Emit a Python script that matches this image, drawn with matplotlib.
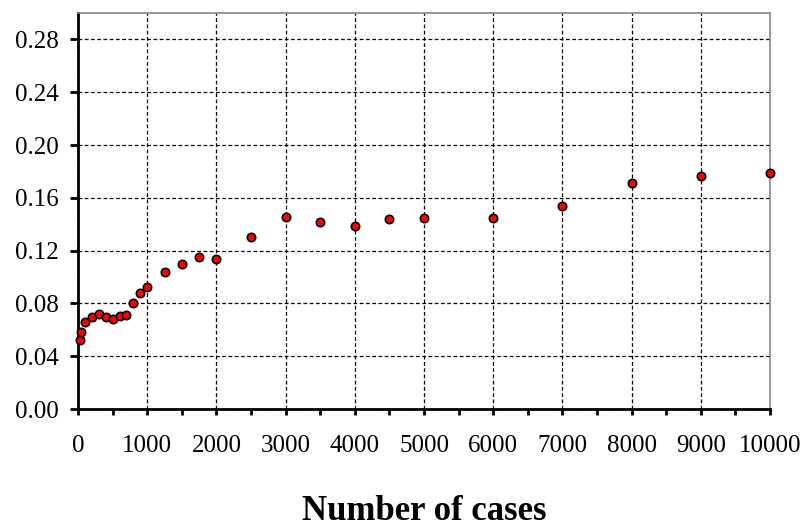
import matplotlib
matplotlib.use("Agg")
import matplotlib.pyplot as plt
from matplotlib.ticker import MultipleLocator, FormatStrFormatter

cases = [25, 50, 100, 200, 300, 400, 500, 600, 700, 800, 900, 1000,
         1250, 1500, 1750, 2000, 2500, 3000, 3500, 4000, 4500, 5000,
         6000, 7000, 8000, 9000, 10000]
values = [0.052, 0.058, 0.066, 0.070, 0.072, 0.0697, 0.068, 0.0707, 0.0713,
          0.080, 0.088, 0.0925, 0.1035, 0.110, 0.115, 0.1135, 0.1306, 0.1455,
          0.1414, 0.139, 0.144, 0.145, 0.145, 0.1535, 0.1713, 0.1763, 0.1787]
x_label = "Number of cases"

plt.rcParams['font.family'] = ['Liberation Serif', 'DejaVu Serif']

fig = plt.figure(figsize=(8.05, 5.27), dpi=100)
ax = fig.add_axes([78/805, 1 - 409/527, (770-78)/805, (409-13)/527])

ax.plot(cases, values, linestyle='none', marker='o', markersize=6,
        markerfacecolor='#ff0000', markeredgecolor='black', markeredgewidth=1.2,
        zorder=5, clip_on=False)

ax.set_xlim(0, 10000)
ax.set_ylim(0, 0.30)
ax.xaxis.set_major_locator(MultipleLocator(1000))
ax.xaxis.set_minor_locator(MultipleLocator(500))
ax.set_yticks([0.0, 0.04, 0.08, 0.12, 0.16, 0.20, 0.24, 0.28])
ax.yaxis.set_major_formatter(FormatStrFormatter('%.2f'))

ax.grid(True, which='major', color='black', linestyle=(0, (3, 2)), linewidth=0.9)
ax.set_axisbelow(True)

for s in ['left', 'bottom']:
    ax.spines[s].set_color('black')
    ax.spines[s].set_linewidth(2)
for s in ['top', 'right']:
    ax.spines[s].set_color('#888888')
    ax.spines[s].set_linewidth(1.2)

ax.tick_params(axis='x', which='major', direction='out', length=4, width=2,
               labelsize=18, pad=15, top=False)
ax.tick_params(axis='x', which='minor', direction='out', length=4, width=2, top=False)
ax.tick_params(axis='y', which='major', direction='out', length=6, width=2,
               labelsize=18, pad=8, right=False)

ax.set_xlabel(x_label, fontsize=25, fontweight='bold', labelpad=27)

fig.savefig("out.png", dpi=100)
